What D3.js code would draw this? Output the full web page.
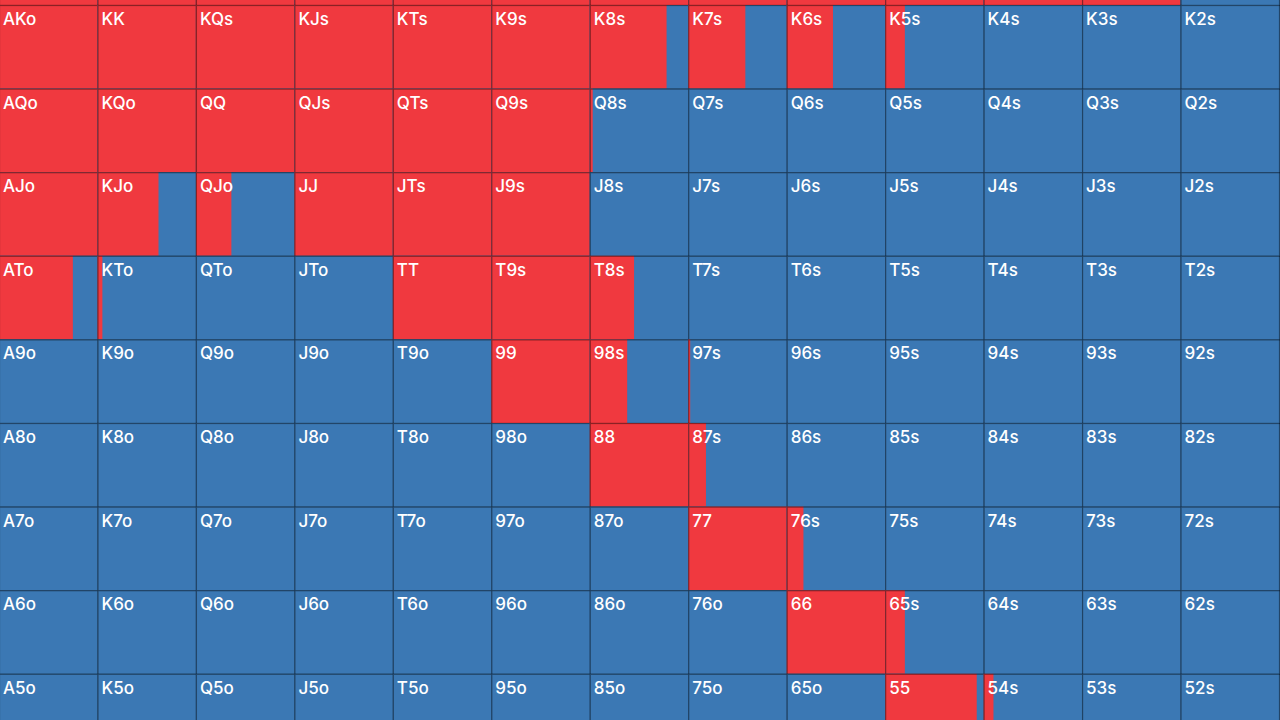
<!DOCTYPE html>
<html>
<head>
<meta charset="utf-8">
<script src="https://cdn.jsdelivr.net/npm/d3@7"></script>
<style>
  html, body { margin: 0; padding: 0; background: #3b78b4; overflow: hidden; }
  svg { display: block; }
</style>
</head>
<body>
<svg id="chart" width="1280" height="720"></svg>
<script>
// Card ranks (columns and rows of the hand grid)
const ranks = ["A","K","Q","J","T","9","8","7","6","5","4","3","2"];
// Visible rows of the grid (the picture is cropped at the top and bottom)
const rowRanks = ["A","K","Q","J","T","9","8","7","6","5"];

// Raise frequency (red share of each cell), one array per row, columns A..2
const rowA = [1,1,1,1,1,1,1,1,1,1,1,1,0];
const rowK = [1,1,1,1,1,1,0.78,0.58,0.47,0.2,0,0,0];
const rowQ = [1,1,1,1,1,1,0.03,0,0,0,0,0,0];
const rowJ = [1,0.62,0.36,1,1,1,0,0,0,0,0,0,0];
const rowT = [0.75,0.05,0,0,1,1,0.45,0,0,0,0,0,0];
const row9 = [0,0,0,0,0,1,0.38,0.02,0,0,0,0,0];
const row8 = [0,0,0,0,0,0,1,0.18,0,0,0,0,0];
const row7 = [0,0,0,0,0,0,0,1,0.17,0,0,0,0];
const row6 = [0,0,0,0,0,0,0,0,1,0.2,0,0,0];
const row5 = [0,0,0,0,0,0,0,0,0,0.93,0.1,0,0];
const freqRows = [rowA,rowK,rowQ,rowJ,rowT,row9,row8,row7,row6,row5];

const RED = "#f0393f", BLUE = "#3b78b4";

function handLabel(ri, ci) {
  if (ri === ci) return ranks[ri] + ranks[ci];
  if (ci > ri) return ranks[ri] + ranks[ci] + "s";
  return ranks[ci] + ranks[ri] + "o";
}

const cells = [];
freqRows.forEach((row, ri) => {
  row.forEach((f, ci) => {
    cells.push({ row: rowRanks[ri], col: ranks[ci], label: handLabel(ri, ci), f });
  });
});

const cellH = 83.6;
const x = d3.scaleBand().domain(ranks).range([-1, 1279]).padding(0);
const y = d3.scaleBand().domain(ranks).range([-78.6, -78.6 + 13 * cellH]).padding(0);
const w = d3.scaleLinear().domain([0, 1]).range([0, x.bandwidth()]);

const svg = d3.select("#chart");
const g = svg.selectAll("g.cell").data(cells).join("g")
  .attr("class", "cell")
  .attr("transform", d => `translate(${x(d.col)},${y(d.row)})`);

g.append("rect")
  .attr("width", x.bandwidth()).attr("height", y.bandwidth())
  .attr("fill", BLUE);

g.append("rect")
  .attr("width", d => w(d.f)).attr("height", y.bandwidth())
  .attr("fill", RED);

g.append("rect")
  .attr("x", 0.5).attr("y", 0.5)
  .attr("width", x.bandwidth()).attr("height", y.bandwidth())
  .attr("fill", "none")
  .attr("stroke", "rgba(0,0,0,0.42)")
  .attr("stroke-width", 1.2);

// Labels only for cells whose label area lies inside the visible frame
g.filter(d => y(d.row) >= -10)
  .append("text")
  .attr("x", 4).attr("y", 20)
  .attr("fill", "#ffffff")
  .style("font-family", "Inter, 'Open Sans', sans-serif")
  .style("font-size", "17px")
  .style("font-weight", 500)
  .text(d => d.label);
</script>
</body>
</html>
